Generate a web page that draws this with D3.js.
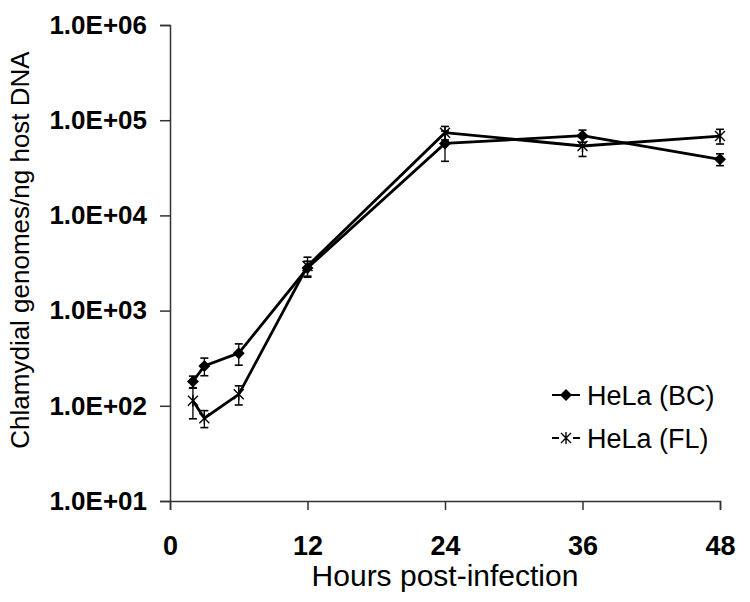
<!DOCTYPE html>
<html>
<head>
<meta charset="utf-8">
<script src="https://cdn.jsdelivr.net/npm/d3@7"></script>
<style>
  html, body { margin: 0; padding: 0; background: #fff; }
  svg { display: block; }
  text { font-family: "Liberation Sans", Arial, sans-serif; fill: #000; }
</style>
</head>
<body>
<svg id="chart" width="750" height="602"></svg>
<script>
// ---- data ----
const hours = [2, 3, 6, 12, 24, 36, 48];
const bcValues = [180, 262, 357, 2800, 57000, 68700, 38800];
const bcErrors = [25, 55, 90, 500, 20000, 10000, 5500];
const flValues = [113, 74, 132, 2940, 74000, 53600, 68200];
const flErrors = [40, 15, 30, 700, 12000, 12000, 12000];
const seriesNames = ["HeLa (BC)", "HeLa (FL)"];
const xTicks = [0, 12, 24, 36, 48];
const yTicks = [1e1, 1e2, 1e3, 1e4, 1e5, 1e6];
const yTickLabels = ["1.0E+01", "1.0E+02", "1.0E+03", "1.0E+04", "1.0E+05", "1.0E+06"];
const xTitle = "Hours post-infection";
const yTitle = "Chlamydial genomes/ng host DNA";

// ---- layout ----
const svg = d3.select("#chart");
const x = d3.scaleLinear().domain([0, 48]).range([170, 720]);
const y = d3.scaleLog().domain([10, 1e6]).range([501, 25]);
const axisColor = "#333";

// axes
const xAxis = svg.append("g").attr("transform", `translate(0,${y(10)})`)
  .call(d3.axisBottom(x).tickValues(xTicks).tickSize(9).tickPadding(0).tickFormat(d3.format("d")));
xAxis.select(".domain").attr("stroke", axisColor).attr("stroke-width", 1.5);
xAxis.selectAll(".tick line").attr("stroke", axisColor).attr("stroke-width", 1.5);
xAxis.selectAll(".tick text").attr("font-size", 27).attr("font-weight", "bold")
  .attr("font-family", "'Liberation Sans', Arial, sans-serif").attr("fill", "#000")
  .attr("y", 54).attr("dy", 0);

const yAxis = svg.append("g").attr("transform", `translate(${x(0)},0)`)
  .call(d3.axisLeft(y).tickValues(yTicks).tickSize(10).tickPadding(13)
    .tickFormat(d => yTickLabels[yTicks.indexOf(d)]));
yAxis.select(".domain").attr("stroke", axisColor).attr("stroke-width", 1.5);
yAxis.selectAll(".tick line").attr("stroke", axisColor).attr("stroke-width", 1.5);
yAxis.selectAll(".tick text").attr("font-size", 26).attr("font-weight", "bold")
  .attr("font-family", "'Liberation Sans', Arial, sans-serif").attr("fill", "#000");

// titles
svg.append("text").attr("x", 445).attr("y", 586).attr("text-anchor", "middle")
  .attr("font-size", 30).text(xTitle);
svg.append("text").attr("transform", `translate(29,250) rotate(-90)`)
  .attr("text-anchor", "middle").attr("font-size", 26).text(yTitle);

// series
const series = [
  { name: seriesNames[0], values: bcValues, errors: bcErrors, marker: "diamond" },
  { name: seriesNames[1], values: flValues, errors: flErrors, marker: "star" }
];

const line = d3.line().x(d => x(d.h)).y(d => y(d.v));

function drawMarker(g, type, cx, cy) {
  if (type === "diamond") {
    g.append("path").attr("d", `M${cx},${cy - 6}L${cx + 6},${cy}L${cx},${cy + 6}L${cx - 6},${cy}Z`)
      .attr("fill", "#000");
  } else {
    const s = 5;
    g.append("path")
      .attr("d", `M${cx - s},${cy - s}L${cx + s},${cy + s}M${cx - s},${cy + s}L${cx + s},${cy - s}M${cx},${cy - s - 1}L${cx},${cy + s + 1}`)
      .attr("stroke", "#000").attr("stroke-width", 1.4).attr("fill", "none");
  }
}

series.forEach(s => {
  const pts = hours.map((h, i) => ({ h, v: s.values[i], e: s.errors[i] }));
  const g = svg.append("g");
  // error bars
  pts.forEach(p => {
    const px = x(p.h);
    const top = y(p.v + p.e), bot = y(Math.max(p.v - p.e, 11));
    g.append("line").attr("x1", px).attr("x2", px).attr("y1", top).attr("y2", bot)
      .attr("stroke", "#000").attr("stroke-width", 1.3);
    [top, bot].forEach(yy => g.append("line").attr("x1", px - 4).attr("x2", px + 4)
      .attr("y1", yy).attr("y2", yy).attr("stroke", "#000").attr("stroke-width", 1.6));
  });
  g.append("path").datum(pts).attr("d", line).attr("fill", "none")
    .attr("stroke", "#000").attr("stroke-width", 2.8);
  pts.forEach(p => drawMarker(g, s.marker, x(p.h), y(p.v)));
});

// legend
const legendY = [395, 438];
series.forEach((s, i) => {
  const g = svg.append("g");
  const ly = legendY[i];
  if (s.marker === "diamond") {
    g.append("line").attr("x1", 552).attr("x2", 580).attr("y1", ly).attr("y2", ly)
      .attr("stroke", "#000").attr("stroke-width", 2);
  } else {
    g.append("line").attr("x1", 552).attr("x2", 559).attr("y1", ly).attr("y2", ly)
      .attr("stroke", "#000").attr("stroke-width", 2);
    g.append("line").attr("x1", 573).attr("x2", 580).attr("y1", ly).attr("y2", ly)
      .attr("stroke", "#000").attr("stroke-width", 2);
  }
  drawMarker(g, s.marker, 566, ly);
  g.append("text").attr("x", 587).attr("y", ly).attr("dy", "0.36em")
    .attr("font-size", 27).text(s.name);
});
</script>
</body>
</html>
